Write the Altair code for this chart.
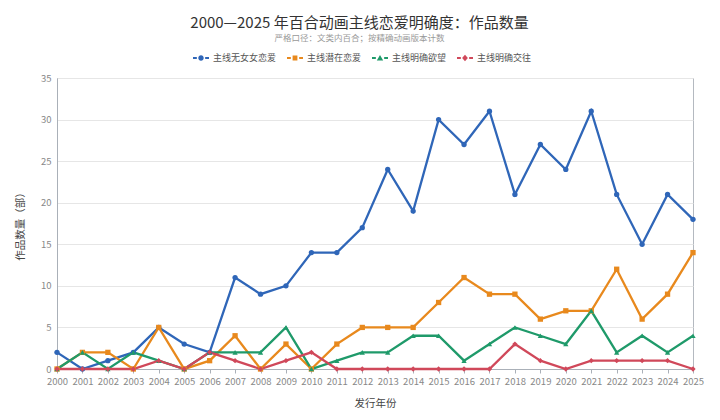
import altair as alt
import pandas as pd

years = list(range(2000, 2026))
series_names = ["主线无女女恋爱", "主线潜在恋爱", "主线明确欲望", "主线明确交往"]
s_none = [2, 0, 1, 2, 5, 3, 2, 11, 9, 10, 14, 14, 17, 24, 19, 30, 27, 31, 21, 27, 24, 31, 21, 15, 21, 18]
s_latent = [0, 2, 2, 0, 5, 0, 1, 4, 0, 3, 0, 3, 5, 5, 5, 8, 11, 9, 9, 6, 7, 7, 12, 6, 9, 14]
s_desire = [0, 2, 0, 2, 1, 0, 2, 2, 2, 5, 0, 1, 2, 2, 4, 4, 1, 3, 5, 4, 3, 7, 2, 4, 2, 4]
s_dating = [0, 0, 0, 0, 1, 0, 2, 1, 0, 1, 2, 0, 0, 0, 0, 0, 0, 0, 3, 1, 0, 1, 1, 1, 1, 0]
colors = ["#2f66b8", "#e8891d", "#1f9a6a", "#d0485a"]
y_ticks = [0, 5, 10, 15, 20, 25, 30, 35]

rows = []
for name, vals in zip(series_names, [s_none, s_latent, s_desire, s_dating]):
    for y, v in zip(years, vals):
        rows.append({"year": y, "count": v, "series": name})
df = pd.DataFrame(rows)

FONT = "Noto Sans CJK SC"

dash = "M-1,-0.12 H-0.52 V0.12 H-1 Z M0.52,-0.12 H1 V0.12 H0.52 Z "
legend_paths = [
    dash + "M0.34,0 A0.34,0.34 0 1,1 -0.34,0 A0.34,0.34 0 1,1 0.34,0 Z",
    dash + "M-0.3,-0.3 H0.3 V0.3 H-0.3 Z",
    dash + "M0,-0.38 L0.4,0.32 L-0.4,0.32 Z",
    dash + "M0,-0.42 L0.36,0 L0,0.42 L-0.36,0 Z",
]
marker_shapes = ["circle", "square", "triangle-up", "diamond"]

x_enc = alt.X(
    "year:Q",
    scale=alt.Scale(domain=[2000, 2025], nice=False, zero=False),
    axis=alt.Axis(
        title="发行年份", values=years, format="d", grid=False,
        labelFontSize=9.5, labelColor="#888888", labelFont=FONT,
        titleFont=FONT, titleFontSize=10.5, titleFontWeight="normal", titleColor="#444444",
        titlePadding=13, domainColor="#aab0b8", tickColor="#aab0b8", tickSize=4,
        labelPadding=3, labelOverlap=False, labelFlush=False,
    ),
)
y_enc = alt.Y(
    "count:Q",
    scale=alt.Scale(domain=[0, 35], nice=False),
    axis=alt.Axis(
        title="作品数量（部）", values=y_ticks, grid=True, gridColor="#e6e6e6",
        ticks=False, domainColor="#aab0b8",
        labelFontSize=9.5, labelColor="#888888", labelFont=FONT, labelPadding=6,
        titleFont=FONT, titleFontSize=10.5, titleFontWeight="normal", titleColor="#444444",
        titlePadding=15,
    ),
)
color_nolegend = alt.Color("series:N", scale=alt.Scale(domain=series_names, range=colors), legend=None)

lines = alt.Chart(df).mark_line(strokeWidth=2.3).encode(x=x_enc, y=y_enc, color=color_nolegend, detail="series:N")
points = alt.Chart(df).mark_point(filled=True, size=28, opacity=1).encode(
    x=x_enc, y=y_enc, color=color_nolegend,
    shape=alt.Shape("series:N", scale=alt.Scale(domain=series_names, range=marker_shapes), legend=None),
)
legend_layer = alt.Chart(df).mark_point(filled=True, size=0, opacity=1).encode(
    x=x_enc, y=y_enc,
    color=alt.Color("series:N", scale=alt.Scale(domain=series_names, range=colors),
                    legend=alt.Legend(title=None)),
    shape=alt.Shape("series:N", scale=alt.Scale(domain=series_names, range=legend_paths),
                    legend=alt.Legend(title=None)),
)

chart = (
    alt.layer(lines, points, legend_layer)
    .resolve_scale(color="independent", shape="independent")
    .properties(
        width=636, height=291,
        autosize=alt.AutoSizeParams(type="none"),
        padding={"left": 49, "top": 70, "right": 19, "bottom": 43},
        title=alt.TitleParams(
            text="2000—2025 年百合动画主线恋爱明确度：作品数量",
            subtitle="严格口径：文类内百合；按精确动画版本计数",
            font=FONT, fontSize=15, fontWeight="normal", color="#333333",
            subtitleFont=FONT, subtitleFontSize=8.5, subtitleColor="#999999", subtitlePadding=3,
            anchor="middle", frame="bounds", offset=8,
        ),
    )
    .configure_view(stroke="#b4b9c0", strokeWidth=1)
    .configure_legend(
        orient="none", legendX=136, legendY=-28, direction="horizontal", columns=4,
        symbolSize=256, symbolStrokeWidth=0, labelFont=FONT, labelFontSize=9,
        labelColor="#555555", columnPadding=10, labelOffset=4,
    )
)

chart.save("out.html", embed_options={"renderer": "svg", "actions": False})
